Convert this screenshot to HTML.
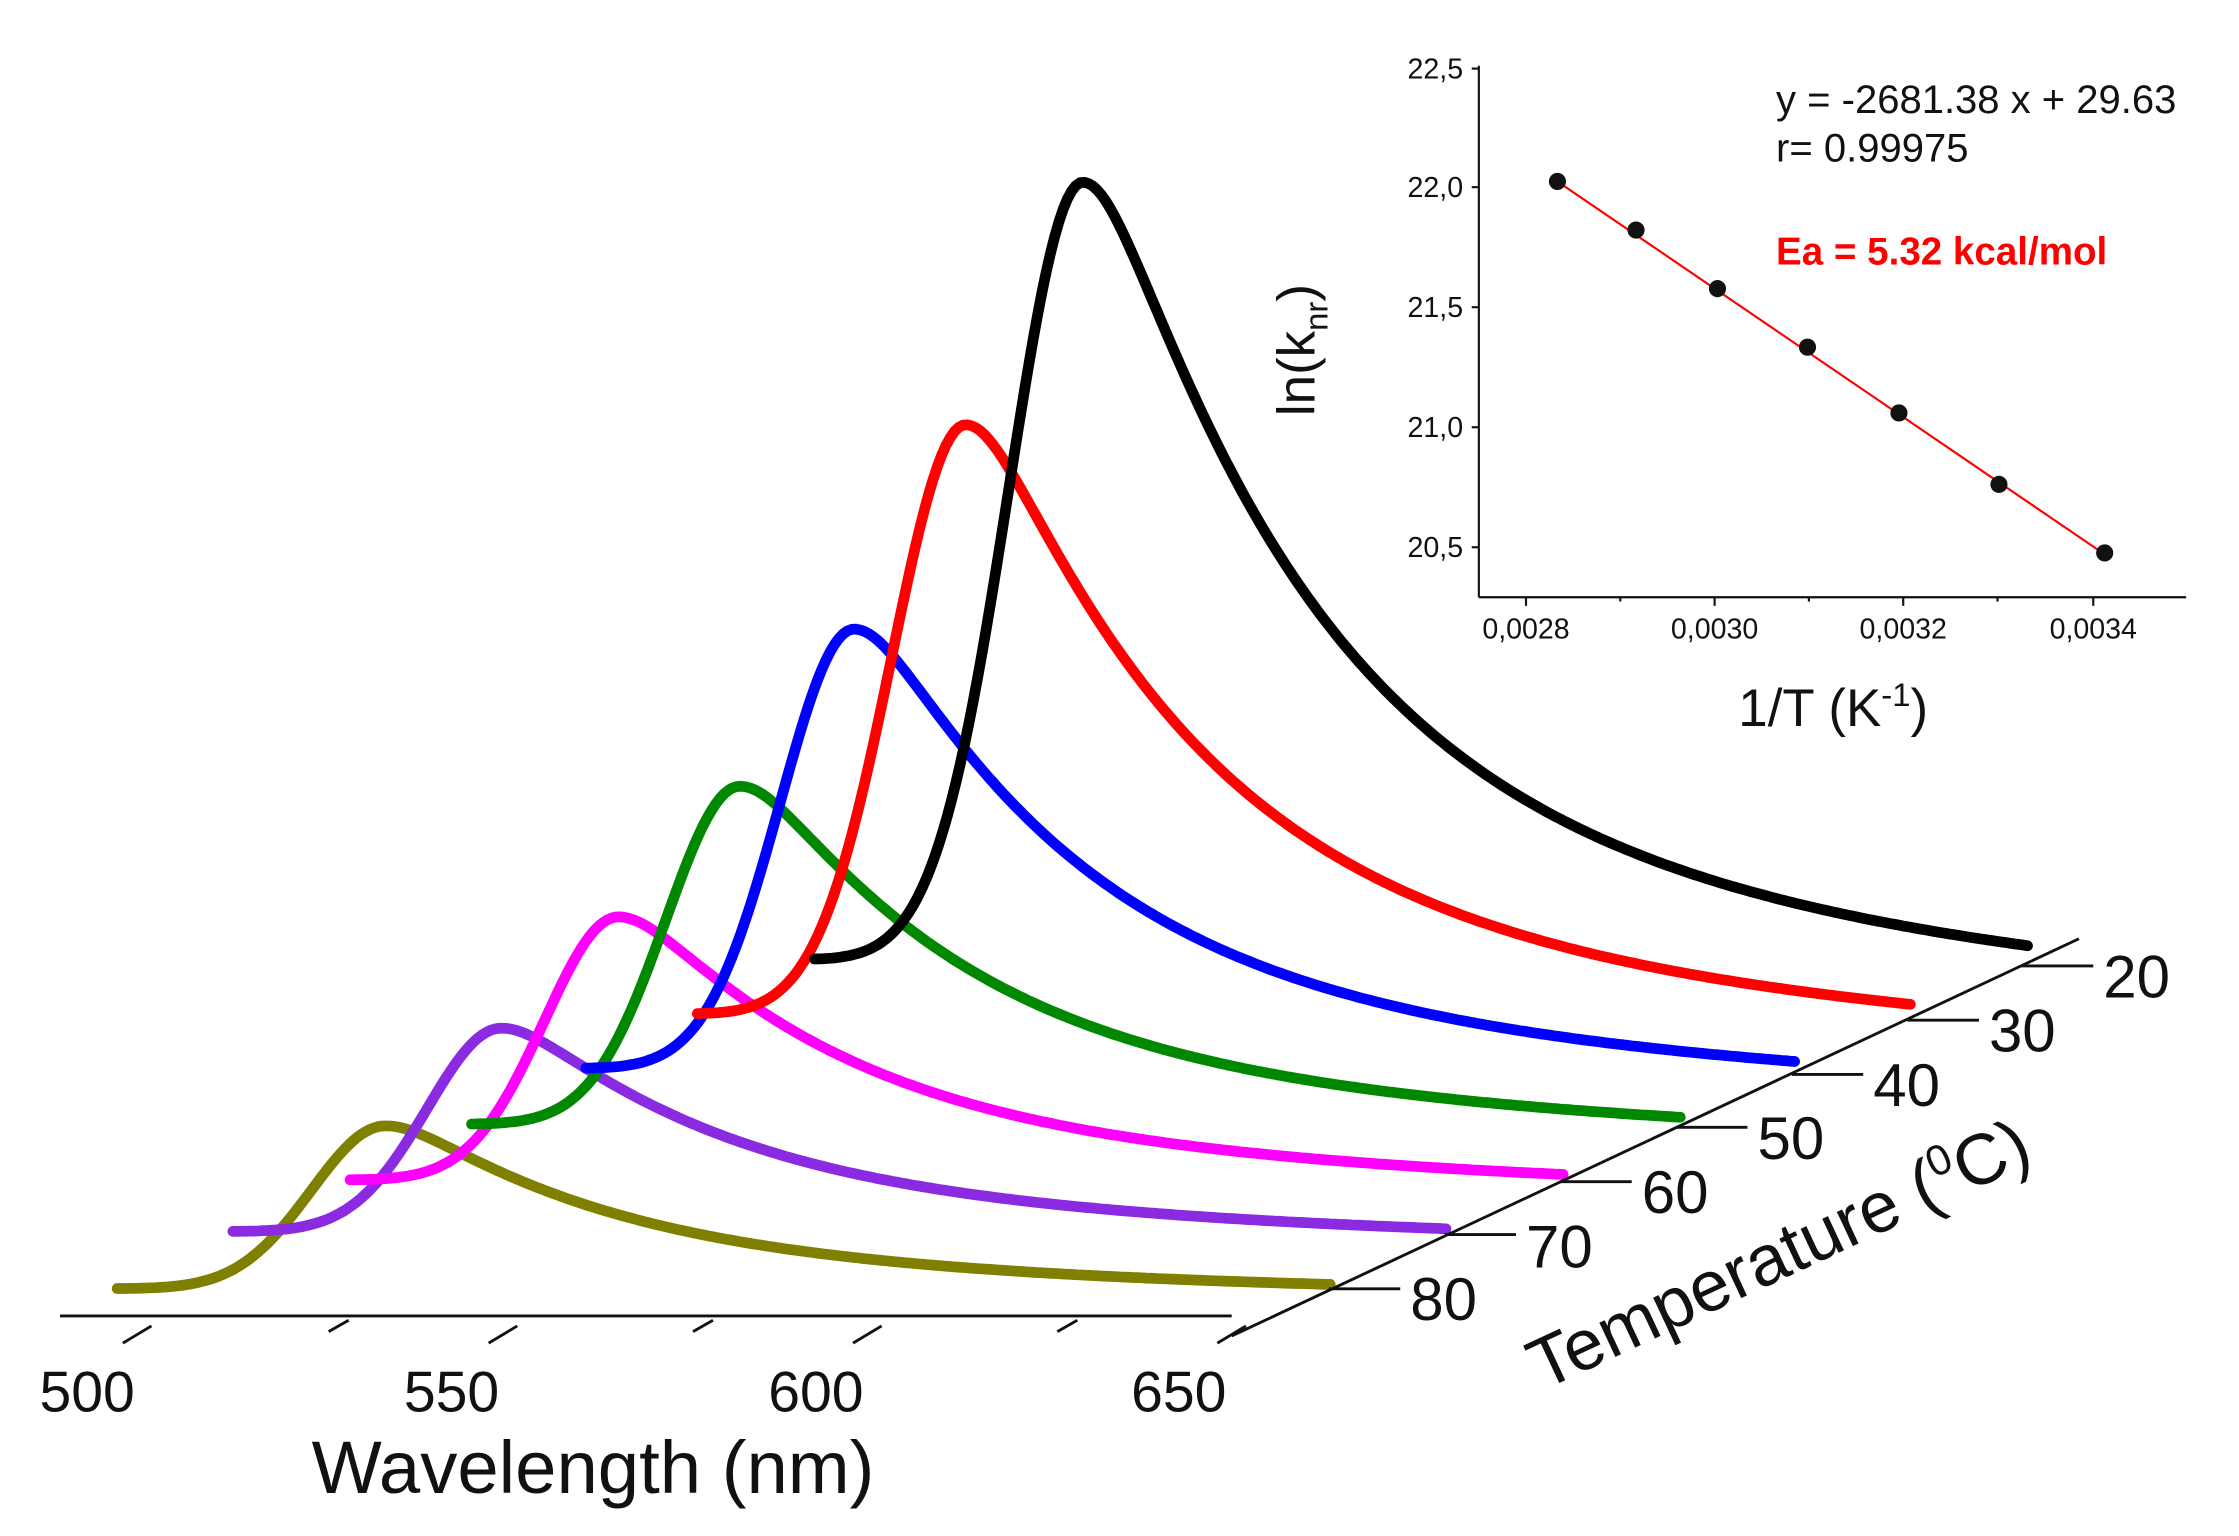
<!DOCTYPE html>
<html><head><meta charset="utf-8"><style>
html,body{margin:0;padding:0;background:#fff}
svg{display:block}
text{font-family:"Liberation Sans",Arial,sans-serif;fill:#111}
</style></head><body>
<svg id="s" width="2239" height="1536" viewBox="0 0 1567 1075" preserveAspectRatio="none" xmlns="http://www.w3.org/2000/svg">
<rect width="1567" height="1075" fill="#fff"/>
<g id="curves" fill="none" stroke-width="7.5" stroke-linejoin="round" stroke-linecap="round"></g>
<g stroke="#111" stroke-width="2">
<line x1="42" y1="921" x2="862" y2="921"/>
<line x1="862" y1="935" x2="1455" y2="657"/>
<line x1="86" y1="940" x2="106" y2="928"/>
<line x1="230" y1="932" x2="244" y2="924"/>
<line x1="342" y1="940" x2="362" y2="928"/>
<line x1="485" y1="932" x2="499" y2="924"/>
<line x1="597" y1="940" x2="617" y2="928"/>
<line x1="740" y1="932" x2="754" y2="924"/>
<line x1="852" y1="940" x2="872" y2="928"/>
<line x1="1415" y1="676" x2="1465" y2="676"/>
<line x1="1335" y1="714" x2="1385" y2="714"/>
<line x1="1254" y1="752" x2="1304" y2="752"/>
<line x1="1173" y1="789" x2="1223" y2="789"/>
<line x1="1092" y1="827" x2="1142" y2="827"/>
<line x1="1011" y1="864" x2="1061" y2="864"/>
<line x1="930" y1="902" x2="980" y2="902"/>
</g>
<g font-size="40" text-anchor="middle">
<text x="61" y="988">500</text><text x="316" y="988">550</text><text x="571" y="988">600</text><text x="825" y="988">650</text>
</g>
<text x="415" y="1045" font-size="52" text-anchor="middle">Wavelength (nm)</text>
<g font-size="42">
<text x="1472" y="698">20</text><text x="1392" y="736">30</text><text x="1311" y="774">40</text><text x="1230" y="811">50</text><text x="1149" y="849">60</text><text x="1068" y="887">70</text><text x="987" y="924">80</text>
</g>
<text transform="translate(1252,893) rotate(-25)" font-size="50" text-anchor="middle">Temperature (<tspan font-size="30" dy="-19">0</tspan><tspan dy="19">C)</tspan></text>
<g stroke="#111" stroke-width="1.5">
<line x1="1035" y1="46" x2="1035" y2="418"/><line x1="1035" y1="418" x2="1530" y2="418"/>
<line x1="1030" y1="48" x2="1035" y2="48"/><line x1="1030" y1="131" x2="1035" y2="131"/><line x1="1030" y1="215" x2="1035" y2="215"/><line x1="1030" y1="299" x2="1035" y2="299"/><line x1="1030" y1="383" x2="1035" y2="383"/>
<line x1="1068" y1="418" x2="1068" y2="424"/><line x1="1200" y1="418" x2="1200" y2="424"/><line x1="1332" y1="418" x2="1332" y2="424"/><line x1="1465" y1="418" x2="1465" y2="424"/>
<line x1="1134" y1="418" x2="1134" y2="421"/><line x1="1266" y1="418" x2="1266" y2="421"/><line x1="1398" y1="418" x2="1398" y2="421"/>
</g>
<g font-size="20" text-anchor="end">
<text x="1024" y="55">22,5</text><text x="1024" y="138">22,0</text><text x="1024" y="222">21,5</text><text x="1024" y="306">21,0</text><text x="1024" y="390">20,5</text>
</g>
<g font-size="20" text-anchor="middle">
<text x="1068" y="447">0,0028</text><text x="1200" y="447">0,0030</text><text x="1332" y="447">0,0032</text><text x="1465" y="447">0,0034</text>
</g>
<text transform="translate(920,245) rotate(-90)" font-size="37" text-anchor="middle">ln(k<tspan font-size="23" dy="9">nr</tspan><tspan dy="-9">)</tspan></text>
<text x="1283" y="508" font-size="37" text-anchor="middle">1/T (K<tspan font-size="23" dy="-14">-1</tspan><tspan dy="14">)</tspan></text>
<line x1="1090" y1="127" x2="1473" y2="388" stroke="#f00" stroke-width="1.5"/>
<g fill="#111">
<circle cx="1090" cy="127" r="6"/><circle cx="1145" cy="161" r="6"/><circle cx="1202" cy="202" r="6"/><circle cx="1265" cy="243" r="6"/><circle cx="1329" cy="289" r="6"/><circle cx="1399" cy="339" r="6"/><circle cx="1473" cy="387" r="6"/>
</g>
<text x="1243" y="79" font-size="28">y = -2681.38 x + 29.63</text>
<text x="1243" y="113" font-size="28">r= 0.99975</text>
<text x="1243" y="185" font-size="27" font-weight="bold" style="fill:#f00">Ea = 5.32 kcal/mol</text>
</svg>
<script>
var C=[["#000",570,672,550,1420,662],["#f00",488,710,417,1338,703],["#00f",410,748,311,1257,743],["#080",330,787,239,1177,782],["#f0f",245,826,186,1095,822],["#8a2be2",163,862,144,1013,860],["#808000",82,902,115,933,899]];
var g=document.getElementById('curves'),out='';
function tail(d){var s=Math.sqrt(d*d+900)-30;return 0.7*Math.exp(-s/135)+0.3*Math.exp(-s/380);}
function f(d){if(d<=0){return Math.exp(-d*d/(2*52*52));}return tail(d)/tail(0);}
for(var i=C.length-1;i>=0;i--){var c=C[i],x0=c[1],y0=c[2],H=c[3],x1=c[4],y1=c[5];
var pk=x0+188,tEnd=f(x1-pk)*H,p='';
for(var x=x0;x<=x1;x+=3){var t=(x-x0)/(x1-x0);var base=y0+(y1+tEnd-y0)*t;var y=base-H*f(x-pk);p+=(x==x0?'M':'L')+x+','+y.toFixed(1);}
out+='<path d="'+p+'" stroke="'+c[0]+'"/>';}
g.innerHTML=out;
</script>
</body></html>
